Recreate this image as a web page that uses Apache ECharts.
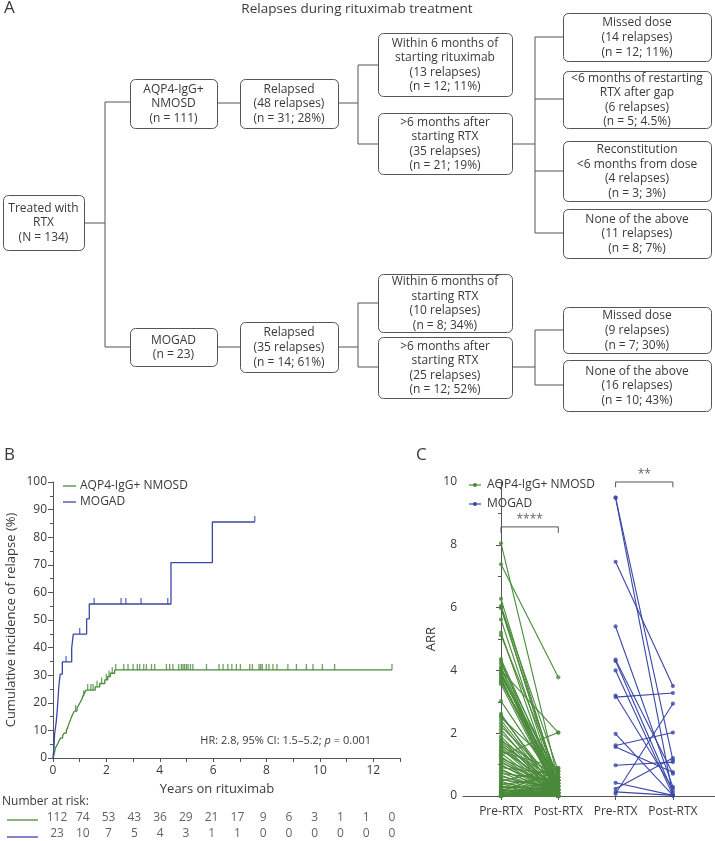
<!DOCTYPE html>
<html><head><meta charset="utf-8">
<script src="https://cdn.jsdelivr.net/npm/echarts@6/dist/echarts.min.js"></script>
<style>html,body{margin:0;padding:0;background:#fff}#c{width:715px;height:841px}</style>
</head><body><div id="c"></div>
<script>
const FONT = '"Open Sans", "Noto Sans", sans-serif';
const TXT = '#3a3a3a';
const LINE = '#555';
const GREEN = '#4a8a3a';
const BLUE = '#3a47a8';

// ---------- Panel A texts ----------
const flowTitle = 'Relapses during rituximab treatment';
const flowTexts = [
  'Treated with\nRTX\n(N = 134)',
  'AQP4-IgG+\nNMOSD\n(n = 111)',
  'Relapsed\n(48 relapses)\n(n = 31; 28%)',
  'Within 6 months of\nstarting rituximab\n(13 relapses)\n(n = 12; 11%)',
  '>6 months after\nstarting RTX\n(35 relapses)\n(n = 21; 19%)',
  'Missed dose\n(14 relapses)\n(n = 12; 11%)',
  '<6 months of restarting\nRTX after gap\n(6 relapses)\n(n = 5; 4.5%)',
  'Reconstitution\n<6 months from dose\n(4 relapses)\n(n = 3; 3%)',
  'None of the above\n(11 relapses)\n(n = 8; 7%)',
  'MOGAD\n(n = 23)',
  'Relapsed\n(35 relapses)\n(n = 14; 61%)',
  'Within 6 months of\nstarting RTX\n(10 relapses)\n(n = 8; 34%)',
  '>6 months after\nstarting RTX\n(25 relapses)\n(n = 12; 52%)',
  'Missed dose\n(9 relapses)\n(n = 7; 30%)',
  'None of the above\n(16 relapses)\n(n = 10; 43%)'
];

// ---------- Panel B data ----------
const riskYears = [0,1,2,3,4,5,6,7,8,9,10,11,12,13];
const riskAqp4 = [112,74,53,43,36,29,21,17,9,6,3,1,1,0];
const riskMogad = [23,10,7,5,4,3,1,1,0,0,0,0,0,0];
const aqp4Steps = [[0,0],[0.03,0.9],[0.05,1.8],[0.07,2.7],[0.09,3.6],[0.14,4.5],[0.19,5.4],[0.23,6.3],[0.28,7.2],[0.36,8.1],[0.42,9.0],[0.50,10.0],[0.55,11.0],[0.58,12.0],[0.62,13.0],[0.66,14.0],[0.70,15.0],[0.75,16.0],[0.80,17.0],[0.90,18.0],[0.96,19.1],[1.02,20.2],[1.08,21.3],[1.12,22.4],[1.18,23.5],[1.24,24.6],[1.58,25.8],[1.75,27.0],[1.94,28.3],[2.05,29.5],[2.15,30.7],[2.31,31.9],[12.7,31.9]];
const aqp4Censor = [0.85,1.15,1.30,1.42,1.50,1.65,1.82,2.00,2.10,2.22,2.35,2.65,2.81,3.0,3.16,3.25,3.4,3.5,3.69,3.81,4.25,4.37,4.49,4.71,4.81,4.87,4.93,5.0,5.06,5.15,5.24,5.75,6.22,6.37,6.55,6.7,6.87,7.02,7.37,7.47,7.72,7.78,7.84,7.99,8.09,8.24,8.39,8.8,9.12,9.49,9.74,10.09,10.55,12.7];
const mogadSteps = [[0,0],[0.04,4.3],[0.06,8.7],[0.12,13.0],[0.16,17.4],[0.19,21.7],[0.22,26.1],[0.27,30.4],[0.35,34.8],[0.70,39.8],[0.76,44.9],[1.26,50.4],[1.36,55.8],[4.42,70.8],[5.97,85.5],[7.56,85.5]];
const mogadCensor = [0.49,1.0,1.54,2.55,2.73,3.3,4.3,7.56];
const hrText = ['HR: 2.8, 95% CI: 1.5–5.2; ', 'p', ' = 0.001'];

// ---------- Panel C data ----------
const arrCats = ['Pre-RTX','Post-RTX','Pre-RTX','Post-RTX'];
const aqp4Pre = [
  8.05,7.38,6.28,6.05,6.02,5.98,5.62,5.20,5.12,4.36,
  4.30,4.22,4.12,4.06,4.00,3.96,3.90,3.86,3.80,3.76,
  3.70,3.66,3.62,3.56,3.02,2.62,2.56,2.50,2.42,2.32,
  2.22,2.12,2.02,1.90,1.82,1.76,1.72,1.66,1.60,1.56,
  1.50,1.46,1.40,1.36,1.30,1.26,1.20,1.16,1.10,1.06,
  1.00,0.96,0.90,0.86,0.82,0.76,0.72,0.66,0.62,0.56,
  0.52,0.48,0.46,0.42,0.38,0.36,0.32,0.30,0.28,0.26,
  0.22,0.20,0.18,0.16,0.14,0.12,0.10,0.08,0.06,0.05,
  0.04,0.03,0.02,0.01,0.00,0.00,0.00,0.00,0.00,0.00];
const aqp4Post = [
  0.50,3.78,0.30,0.80,0.20,0.40,0.10,0.00,0.60,0.30,
  0.00,0.50,0.20,0.10,2.02,0.00,0.40,0.30,0.70,0.00,
  0.20,0.10,0.50,0.00,0.30,0.00,0.20,0.80,0.10,0.00,
  0.40,0.00,0.30,0.10,0.00,0.60,0.20,0.00,0.50,0.10,
  0.00,0.30,0.90,0.00,2.02,0.00,0.40,0.10,0.00,0.30,
  0.00,0.20,0.70,0.00,0.10,0.00,0.50,0.00,0.20,0.00,
  0.30,0.88,0.00,0.10,0.00,0.60,0.00,0.20,0.00,0.40,
  0.00,0.10,0.00,0.80,0.30,0.00,0.00,0.20,0.00,0.10,
  0.00,0.30,0.00,0.50,0.00,0.20,0.10,0.00,0.40,0.00];
const mogadPre  = [9.50,9.50,7.46,5.40,4.34,4.30,4.00,3.20,3.15,1.98,1.61,1.56,0.98,0.42,0.23,0.13,0.07];
const mogadPost = [1.14,0.02,3.50,0.29,0.71,0.13,0.02,0.23,3.28,0.02,2.02,0.76,1.08,0.02,1.21,0.02,2.94];
const sigLabels = ['****','**'];

// ---------- layout (positions only) ----------
const boxLayout = [
  [3,195,81,55],[130,79,87,49],[240,79,98,49],[378,33,134,63],[378,113,134,61],
  [563,13,148,48],[563,71,148,57],[563,141,148,60],[563,209,148,49],
  [130,328,87,38],[240,322,98,50],[378,274,134,58],[378,337,134,61],
  [563,307,148,46],[563,360,148,51]
];
const connectors = [
  [[84,223],[105,223]],[[105,102],[105,347]],[[105,102],[130,102]],[[105,347],[130,347]],
  [[217,103],[240,103]],[[338,103],[358,103]],[[358,65],[358,144]],[[358,65],[378,65]],[[358,144],[378,144]],
  [[512,144],[535,144]],[[535,37],[535,233]],[[535,37],[563,37]],[[535,99],[563,99]],[[535,171],[563,171]],[[535,233],[563,233]],
  [[217,347],[240,347]],[[338,347],[358,347]],[[358,303],[358,367]],[[358,303],[378,303]],[[358,367],[378,367]],
  [[512,367],[535,367]],[[535,330],[535,385]],[[535,330],[563,330]],[[535,385],[563,385]]
];

function valueAt(steps, t) {
  let v = 0;
  for (const [x, y] of steps) { if (x <= t + 1e-9) v = y; }
  return v;
}

const graphics = [];
graphics.push({type:'text', x:4, y:0, style:{text:'A', fontSize:17, fontFamily:FONT, fill:TXT}});
graphics.push({type:'text', x:4, y:447, style:{text:'B', fontSize:17, fontFamily:FONT, fill:TXT}});
graphics.push({type:'text', x:416, y:447, style:{text:'C', fontSize:17, fontFamily:FONT, fill:TXT}});
graphics.push({type:'text', x:357, y:9, style:{text:flowTitle, fontSize:13.5, fontFamily:FONT, fill:TXT, align:'center', verticalAlign:'middle'}});
connectors.forEach(p => graphics.push({type:'polyline', shape:{points:p}, style:{stroke:LINE, lineWidth:1, fill:null}}));
boxLayout.forEach((b, i) => {
  graphics.push({type:'rect', shape:{x:b[0]+0.5, y:b[1]+0.5, width:b[2], height:b[3], r:5}, style:{fill:'#fff', stroke:LINE, lineWidth:1}});
  graphics.push({type:'text', x:b[0]+b[2]/2, y:b[1]+b[3]/2+0.5, style:{text:flowTexts[i], fontSize:12, lineHeight:14.6, fontFamily:FONT, fill:TXT, align:'center', verticalAlign:'middle'}});
});
// Panel B legend
graphics.push({type:'line', shape:{x1:63,y1:486,x2:76,y2:486}, style:{stroke:GREEN, lineWidth:1.3}});
graphics.push({type:'text', x:80, y:486, style:{text:'AQP4-IgG+ NMOSD', fontSize:12, fontFamily:FONT, fill:TXT, verticalAlign:'middle'}});
graphics.push({type:'line', shape:{x1:63,y1:502,x2:76,y2:502}, style:{stroke:BLUE, lineWidth:1.3}});
graphics.push({type:'text', x:80, y:502, style:{text:'MOGAD', fontSize:12, fontFamily:FONT, fill:TXT, verticalAlign:'middle'}});
graphics.push({type:'text', x:371, y:741, style:{text:'{n|'+hrText[0]+'}{i|'+hrText[1]+'}{n|'+hrText[2]+'}', rich:{n:{fontSize:11, fontFamily:FONT, fill:TXT}, i:{fontSize:11, fontFamily:FONT, fontStyle:'italic', fill:TXT}}, align:'right', verticalAlign:'middle'}});
graphics.push({type:'text', x:217, y:789, style:{text:'Years on rituximab', fontSize:13, fontFamily:FONT, fill:TXT, align:'center', verticalAlign:'middle'}});
graphics.push({type:'text', x:2, y:802, style:{text:'Number at risk:', fontSize:12, fontFamily:FONT, fill:TXT, verticalAlign:'middle'}});
graphics.push({type:'line', shape:{x1:7,y1:820,x2:38,y2:820}, style:{stroke:GREEN, lineWidth:1.3}});
graphics.push({type:'line', shape:{x1:7,y1:837,x2:38,y2:837}, style:{stroke:BLUE, lineWidth:1.3}});
// Panel C legend
graphics.push({type:'line', shape:{x1:469,y1:485,x2:481,y2:485}, style:{stroke:GREEN, lineWidth:1.2}});
graphics.push({type:'circle', shape:{cx:475,cy:485,r:2}, style:{fill:GREEN}});
graphics.push({type:'text', x:487, y:485, style:{text:'AQP4-IgG+ NMOSD', fontSize:12, fontFamily:FONT, fill:TXT, verticalAlign:'middle'}});
graphics.push({type:'line', shape:{x1:469,y1:504,x2:481,y2:504}, style:{stroke:BLUE, lineWidth:1.2}});
graphics.push({type:'circle', shape:{cx:475,cy:504,r:2}, style:{fill:BLUE}});
graphics.push({type:'text', x:487, y:504, style:{text:'MOGAD', fontSize:12, fontFamily:FONT, fill:TXT, verticalAlign:'middle'}});

const axisCommon = {
  axisLine:{show:true, lineStyle:{color:LINE, width:1}},
  axisTick:{show:true, length:5, lineStyle:{color:LINE}},
  axisLabel:{color:TXT, fontSize:12, fontFamily:FONT},
  splitLine:{show:false}
};

const option = {
  animation:false,
  backgroundColor:'#fff',
  textStyle:{fontFamily:FONT},
  grid:[
    {left:53, top:482, width:347, height:276},
    {left:57, top:810, width:335, height:34},
    {left:463, top:482, width:252, height:314}
  ],
  xAxis:[
    Object.assign({}, axisCommon, {type:'value', gridIndex:0, min:0, max:13, interval:1,
      axisTick:{show:true, length:4, lineStyle:{color:LINE}},
      axisLabel:{color:TXT, fontSize:12, fontFamily:FONT, margin:7, formatter:v => (v % 2 === 0 && v <= 12) ? String(v) : ''}}),
    {type:'value', gridIndex:1, min:0, max:13, show:false},
    Object.assign({}, axisCommon, {type:'value', gridIndex:2, min:-0.663, max:3.735,
      axisTick:{show:true, length:4, customValues:[0,1,2,3], lineStyle:{color:LINE}},
      axisLabel:{color:TXT, fontSize:12, fontFamily:FONT, margin:10, customValues:[0,1,2,3], formatter:v => arrCats[Math.round(v)]}})
  ],
  yAxis:[
    Object.assign({}, axisCommon, {type:'value', gridIndex:0, min:0, max:100, interval:10,
      minorTick:{show:true, splitNumber:2, length:3, lineStyle:{color:LINE}},
      name:'Cumulative incidence of relapse (%)', nameLocation:'middle', nameGap:35,
      nameTextStyle:{color:TXT, fontSize:13, fontFamily:FONT},
      axisLabel:{color:TXT, fontSize:12, fontFamily:FONT, margin:6}}),
    {type:'value', gridIndex:1, min:0, max:2, show:false},
    Object.assign({}, axisCommon, {type:'value', gridIndex:2, min:0, max:10, interval:2,
      minorTick:{show:true, splitNumber:2, length:3, lineStyle:{color:LINE}},
      name:'ARR', nameLocation:'middle', nameGap:25,
      nameTextStyle:{color:TXT, fontSize:13, fontFamily:FONT},
      axisLabel:{color:TXT, fontSize:12, fontFamily:FONT, margin:6}})
  ],
  series:[
    {type:'line', xAxisIndex:0, yAxisIndex:0, step:'end', symbol:'none', data:aqp4Steps, lineStyle:{color:GREEN, width:1.3}, clip:false},
    {type:'line', xAxisIndex:0, yAxisIndex:0, step:'end', symbol:'none', data:mogadSteps, lineStyle:{color:BLUE, width:1.3}, clip:false},
    {type:'scatter', xAxisIndex:0, yAxisIndex:0, symbol:'rect', symbolSize:[1.3,6], symbolOffset:[0,-3],
      itemStyle:{color:GREEN}, data:aqp4Censor.map(t => [t, valueAt(aqp4Steps, t)])},
    {type:'scatter', xAxisIndex:0, yAxisIndex:0, symbol:'rect', symbolSize:[1.3,6], symbolOffset:[0,-3],
      itemStyle:{color:BLUE}, data:mogadCensor.map(t => [t, valueAt(mogadSteps, t)])},
    {type:'scatter', xAxisIndex:1, yAxisIndex:1, symbolSize:1, itemStyle:{color:'rgba(0,0,0,0)'},
      label:{show:true, position:'inside', color:TXT, fontSize:12, fontFamily:FONT, formatter:p => String(p.value[2])},
      data:riskYears.map((y,i) => [y, 1.5, riskAqp4[i]])},
    {type:'scatter', xAxisIndex:1, yAxisIndex:1, symbolSize:1, itemStyle:{color:'rgba(0,0,0,0)'},
      label:{show:true, position:'inside', color:TXT, fontSize:12, fontFamily:FONT, formatter:p => String(p.value[2])},
      data:riskYears.map((y,i) => [y, 0.5, riskMogad[i]])},
    {type:'lines', coordinateSystem:'cartesian2d', xAxisIndex:2, yAxisIndex:2, polyline:false,
      lineStyle:{color:GREEN, width:1.1, opacity:1}, data:aqp4Pre.map((v,i) => ({coords:[[0,v],[1,aqp4Post[i]]]}))},
    {type:'lines', coordinateSystem:'cartesian2d', xAxisIndex:2, yAxisIndex:2, polyline:false,
      lineStyle:{color:BLUE, width:1.1, opacity:1}, data:mogadPre.map((v,i) => ({coords:[[2,v],[3,mogadPost[i]]]}))},
    {type:'scatter', xAxisIndex:2, yAxisIndex:2, symbolSize:4.2, itemStyle:{color:GREEN},
      data:aqp4Pre.map(v => [0,v]).concat(aqp4Post.map(v => [1,v]))},
    {type:'scatter', xAxisIndex:2, yAxisIndex:2, symbolSize:4.2, itemStyle:{color:BLUE},
      data:mogadPre.map(v => [2,v]).concat(mogadPost.map(v => [3,v]))},
    {type:'line', xAxisIndex:2, yAxisIndex:2, symbol:'none', clip:false, lineStyle:{color:LINE, width:1},
      data:[[0,8.38],[0,8.57],[1,8.57],[1,8.38]]},
    {type:'line', xAxisIndex:2, yAxisIndex:2, symbol:'none', clip:false, lineStyle:{color:LINE, width:1},
      data:[[2,9.83],[2,10],[3,10],[3,9.83]]},
    {type:'scatter', xAxisIndex:2, yAxisIndex:2, symbolSize:1, itemStyle:{color:'rgba(0,0,0,0)'}, clip:false,
      label:{show:true, position:'top', distance:1, color:TXT, fontSize:12, fontFamily:FONT, formatter:p => p.value[2]},
      data:[[0.5,8.57,sigLabels[0]],[2.5,10,sigLabels[1]]]}
  ],
  graphic:graphics
};

const chart = echarts.init(document.getElementById('c'), null, {renderer:'canvas'});
chart.setOption(option);
</script></body></html>
